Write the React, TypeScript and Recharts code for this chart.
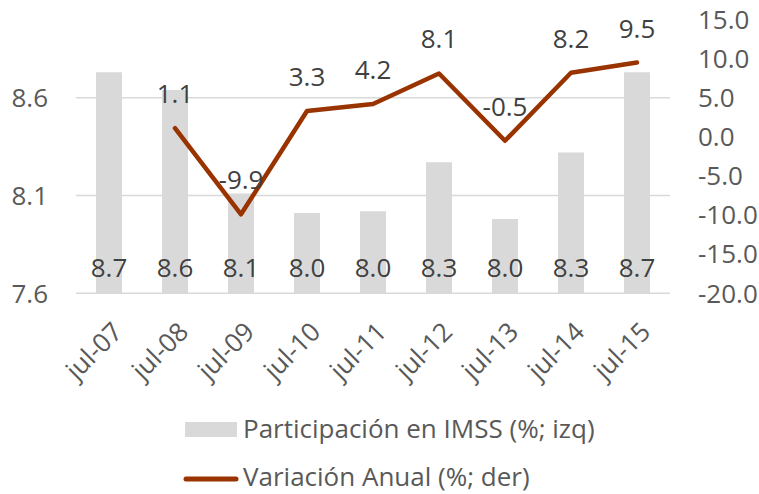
import React from 'react';
import { ComposedChart, Bar, Line, XAxis, YAxis, CartesianGrid, LabelList, Legend } from 'recharts';

const categories = ['jul-07', 'jul-08', 'jul-09', 'jul-10', 'jul-11', 'jul-12', 'jul-13', 'jul-14', 'jul-15'];
const participacion = [8.73, 8.64, 8.11, 8.01, 8.02, 8.27, 7.98, 8.32, 8.73];
const variacion: (number | null)[] = [null, 1.1, -9.9, 3.3, 4.2, 8.1, -0.5, 8.2, 9.5];
const leftTicks = [7.6, 8.1, 8.6];
const rightTicks = [-20, -15, -10, -5, 0, 5, 10, 15];
const leftDomain: [number, number] = [7.6, 9.0];
const rightDomain: [number, number] = [-20, 15];

const data = categories.map((c, i) => ({ cat: c, part: participacion[i], vari: variacion[i] }));

const FONT = '"Open Sans", sans-serif';
const BAR_COLOR = '#d9d9d9';
const LINE_COLOR = '#993300';
const TEXT = '#595959';
const LABEL = '#404040';

const XTick = (props: any) => {
  const { x, y, payload } = props;
  const tx = x + 2;
  return (
    <text
      x={tx}
      y={y}
      transform={`rotate(-45, ${tx}, ${y})`}
      textAnchor="end"
      dy="0.714em"
      fill={TEXT}
      fontSize={26}
      fontFamily={FONT}
    >
      {payload.value}
    </text>
  );
};

const LegendContent = () => (
  <svg width={759} height={90} style={{ display: 'block', overflow: 'visible' }}>
    <rect x={185} y={18} width={52} height={15} fill={BAR_COLOR} />
    <text x={243} y={34} fill={TEXT} fontSize={26} fontFamily={FONT}>
      Participación en IMSS (%; izq)
    </text>
    <line x1={186} x2={236} y1={75} y2={75} stroke={LINE_COLOR} strokeWidth={5} strokeLinecap="round" />
    <text x={243} y={82} fill={TEXT} fontSize={26} fontFamily={FONT}>
      Variación Anual (%; der)
    </text>
  </svg>
);

const fmt = (v: any) => (v === null || v === undefined ? '' : Number(v).toFixed(1));

const gridGen = (props: any) => {
  const off = props && props.offset;
  if (!off) return [];
  const [lo, hi] = leftDomain;
  return leftTicks.map((t) => off.top + (off.height * (hi - t)) / (hi - lo));
};

export default function App() {
  return (
    <div style={{ position: 'absolute', left: 0, top: 0, width: 759, height: 494, background: '#fff' }}>
      <ComposedChart
        width={759}
        height={494}
        data={data}
        margin={{ top: 19.5, right: 0, bottom: 0, left: 0 }}
        style={{ fontFamily: FONT }}
      >
        <CartesianGrid
          yAxisId="left"
          vertical={false}
          stroke={BAR_COLOR}
          strokeWidth={1.5}
          horizontalCoordinatesGenerator={gridGen}
        />
        <XAxis
          dataKey="cat"
          axisLine={false}
          tickLine={false}
          tickSize={0}
          tickMargin={27}
          height={110.7}
          interval={0}
          tick={<XTick />}
        />
        <YAxis
          yAxisId="left"
          orientation="left"
          width={76}
          domain={leftDomain}
          ticks={leftTicks}
          allowDataOverflow
          axisLine={false}
          tickLine={false}
          tickSize={0}
          tickMargin={28}
          tickFormatter={fmt}
          tick={{ fill: TEXT, fontSize: 26, fontFamily: FONT }}
        />
        <YAxis
          yAxisId="right"
          orientation="right"
          width={89}
          domain={rightDomain}
          ticks={rightTicks}
          allowDataOverflow
          axisLine={false}
          tickLine={false}
          tickSize={0}
          tickMargin={28}
          tickFormatter={fmt}
          tick={{ fill: TEXT, fontSize: 26, fontFamily: FONT }}
        />
        <Legend
          verticalAlign="bottom"
          content={<LegendContent />}
          wrapperStyle={{ left: 0, bottom: 0, width: 759, height: 90 }}
        />
        <Bar yAxisId="left" dataKey="part" fill={BAR_COLOR} barSize={26} isAnimationActive={false}>
          <LabelList
            dataKey="part"
            position="insideBottom"
            offset={16}
            formatter={fmt}
            fill={LABEL}
            fontSize={26}
            fontFamily={FONT}
          />
        </Bar>
        <Line
          yAxisId="right"
          dataKey="vari"
          stroke={LINE_COLOR}
          strokeWidth={4.5}
          strokeLinejoin="round"
          strokeLinecap="round"
          dot={false}
          activeDot={false}
          isAnimationActive={false}
        >
          <LabelList
            dataKey="vari"
            position="top"
            offset={25}
            formatter={fmt}
            fill={LABEL}
            fontSize={26}
            fontFamily={FONT}
          />
        </Line>
      </ComposedChart>
    </div>
  );
}
